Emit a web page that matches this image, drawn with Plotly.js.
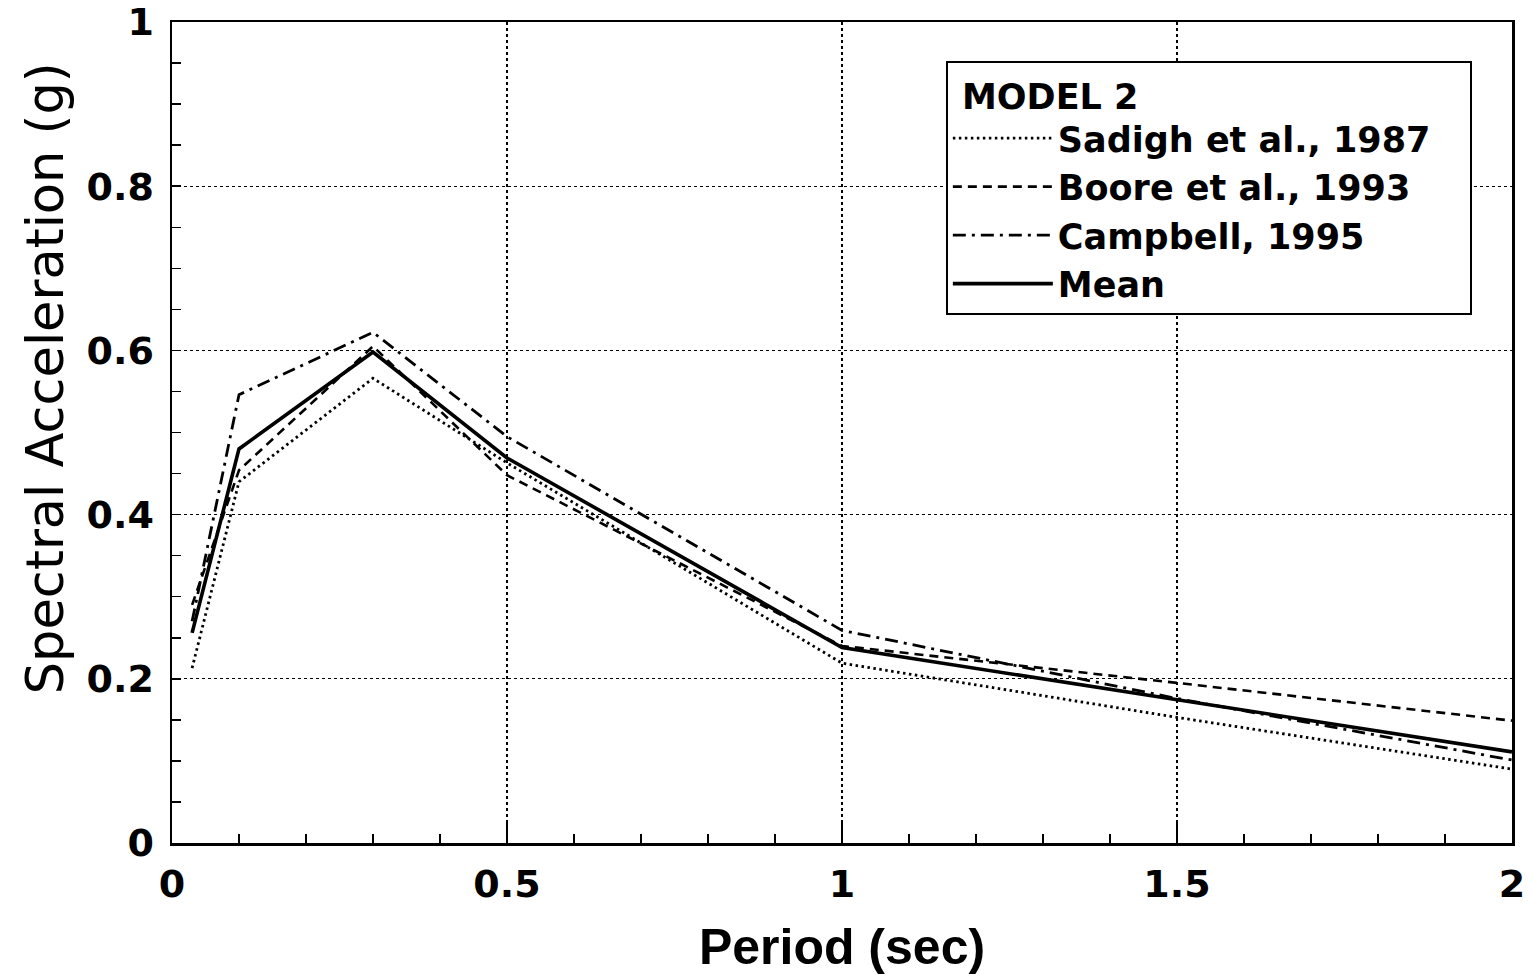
<!DOCTYPE html>
<html>
<head>
<meta charset="utf-8">
<script src="https://cdn.plot.ly/plotly-3.0.1.min.js"></script>
<style>html,body{margin:0;padding:0;background:#fff;}#chart{width:1532px;height:975px;}</style>
</head>
<body>
<div id="chart"></div>
<script>
// Period (sec)
var period = [0.03, 0.1, 0.3, 0.5, 1.0, 1.5, 2.0];
// Spectral acceleration (g)
var sadigh1987 = [0.213, 0.440, 0.566, 0.463, 0.219, 0.153, 0.090];
var boore1993 = [0.290, 0.454, 0.605, 0.448, 0.240, 0.195, 0.149];
var campbell1995 = [0.270, 0.546, 0.622, 0.495, 0.259, 0.176, 0.101];
var meanSA = [0.256, 0.480, 0.598, 0.469, 0.238, 0.175, 0.111];
var seriesNames = ["Sadigh et al., 1987", "Boore et al., 1993", "Campbell, 1995", "Mean"];
var legendTitle = "MODEL 2";
var xTickVals = [0, 0.5, 1, 1.5, 2];
var xTickText = ["0", "0.5", "1", "1.5", "2"];
var yTickVals = [0, 0.2, 0.4, 0.6, 0.8, 1];
var yTickText = ["0", "0.2", "0.4", "0.6", "0.8", "1"];

var traces = [
  {x: period, y: sadigh1987, name: seriesNames[0], mode: "lines", line: {color: "#000", width: 2.8, dash: "2.5px,3.5px"}},
  {x: period, y: boore1993, name: seriesNames[1], mode: "lines", line: {color: "#000", width: 2.6, dash: "9px,6px"}},
  {x: period, y: campbell1995, name: seriesNames[2], mode: "lines", line: {color: "#000", width: 2.8, dash: "13px,6px,3px,6px"}},
  {x: period, y: meanSA, name: seriesNames[3], mode: "lines", line: {color: "#000", width: 3.6}}
];

var tickFont = {family: "DejaVu Sans, sans-serif", size: 38, color: "#000", weight: "bold"};
var legFont = {family: "DejaVu Sans, sans-serif", size: 35, color: "#000", weight: "bold"};
var pad = "\u00a0";
var titlePad = "";
for (var i = 0; i < 27; i++) titlePad += pad;

var layout = {
  width: 1532, height: 975,
  paper_bgcolor: "#fff", plot_bgcolor: "#fff",
  margin: {l: 172, r: 20, t: 22, b: 132},
  showlegend: true,
  legend: {
    x: 0.5775, y: 0.952, xanchor: "left", yanchor: "top",
    bgcolor: "#fff", bordercolor: "#000", borderwidth: 2,
    font: legFont,
    title: {text: pad + legendTitle + titlePad, font: legFont},
    itemwidth: 100, tracegroupgap: 0
  },
  xaxis: {
    range: [0, 2], tickvals: xTickVals, ticktext: xTickText,
    ticks: "inside", ticklen: 20, tickwidth: 1.5, tickcolor: "#000",
    minor: {dtick: 0.1, ticks: "inside", ticklen: 9, tickwidth: 1.5, tickcolor: "#000", showgrid: false},
    showline: true, linecolor: "#000", linewidth: 2.5, mirror: true,
    showgrid: true, gridcolor: "#000", gridwidth: 1.3, griddash: "dot",
    zeroline: false, tickfont: tickFont, ticklabelstandoff: 6,
    title: {text: "Period (sec)", font: {family: "Liberation Sans, Arial, sans-serif", size: 50, color: "#000", weight: "bold"}, standoff: 26}
  },
  yaxis: {
    range: [0, 1], tickvals: yTickVals, ticktext: yTickText,
    ticks: "inside", ticklen: 9, tickwidth: 1.5, tickcolor: "#000",
    minor: {dtick: 0.05, ticks: "inside", ticklen: 9, tickwidth: 1.5, tickcolor: "#000", showgrid: false},
    showline: true, linecolor: "#000", linewidth: 2.5, mirror: true,
    showgrid: true, gridcolor: "#000", gridwidth: 1.3, griddash: "dot",
    zeroline: false, tickfont: tickFont, ticklabelstandoff: 8
  },
  annotations: [{
    text: "Spectral Acceleration (g)", textangle: -90, showarrow: false,
    xref: "paper", yref: "paper", x: -0.0948, y: 0.566, xanchor: "center", yanchor: "middle",
    font: {family: "DejaVu Sans, sans-serif", size: 51, color: "#000"}
  }]
};

Plotly.newPlot("chart", traces, layout, {displayModeBar: false, staticPlot: true});
</script>
</body>
</html>
